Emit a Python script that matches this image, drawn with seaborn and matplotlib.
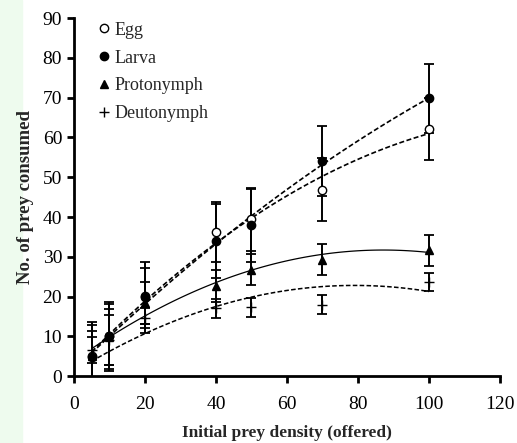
import numpy as np
import seaborn as sns
import matplotlib.pyplot as plt
from matplotlib.patches import Rectangle

# prey density offered and mean (+/- error) prey consumed per stage
density = [5, 10, 20, 40, 50, 70, 100]

egg_mean = [5.0, 10.0, 20.1, 36.3, 39.4, 46.9, 62.2]
egg_err = [8.6, 8.7, 7.0, 7.6, 8.0, 8.0, 7.8]

larva_mean = [4.9, 10.0, 19.8, 34.0, 37.9, 54.1, 69.9]
larva_err = [8.0, 8.1, 8.9, 9.3, 9.1, 8.9, 8.7]

proto_mean = [5.0, 9.8, 18.4, 22.7, 26.8, 29.3, 31.7]
proto_err = [6.3, 7.0, 5.3, 4.0, 3.9, 3.8, 3.9]

deuto_mean = [6.6, 9.0, 14.5, 17.0, 17.3, 18.0, 23.7]
deuto_err = [3.3, 6.3, 2.5, 2.5, 2.4, 2.3, 2.3]
# the deutonymph trendline in the source does not follow its means,
# so it is fitted to the curve's own values read at each density
deuto_trend = [3.6, 6.3, 10.8, 17.6, 19.7, 22.5, 21.3]

stages = ["Egg", "Larva", "Protonymph", "Deutonymph"]

sns.set_style("ticks")
plt.rcParams["font.family"] = ["Liberation Serif", "DejaVu Serif"]

fig = plt.figure(figsize=(5.17, 4.43), dpi=100)
fig.patches.append(Rectangle((0, 0), 22 / 517, 1, transform=fig.transFigure,
                             color="#eefbee", zorder=-1))
ax = fig.add_axes([0.143, 0.151, 0.824, 0.808])

dash = (0, (3, 1.5))
series = [
    (egg_mean, egg_err, egg_mean, "o", "white", dash, 1.2),
    (larva_mean, larva_err, larva_mean, "o", "black", dash, 1.2),
    (proto_mean, proto_err, proto_mean, "^", "black", "-", 0.9),
    (deuto_mean, deuto_err, deuto_trend, "+", "black", dash, 1.1),
]

for (mean, err, trend, mk, fc, ls, lw), name in zip(series, stages):
    sns.regplot(x=density, y=trend, order=2, ci=None, scatter=False, ax=ax,
                color="black", line_kws=dict(ls=ls, lw=lw, zorder=2))
    ax.errorbar(density, mean, yerr=err, fmt="none", ecolor="black",
                elinewidth=1.4, capsize=3.5, capthick=1.3, zorder=3)
    ax.plot(density, mean, linestyle="none", marker=mk, markersize=6 if mk != "+" else 6.5,
            markerfacecolor=fc, markeredgecolor="black", markeredgewidth=1.0,
            color="black", label=name, zorder=4)

ax.set_xlim(0, 120)
ax.set_ylim(0, 90)
ax.set_xticks(range(0, 121, 20))
ax.set_yticks(range(0, 91, 10))
ax.tick_params(labelsize=14, width=2, length=5, color="black", labelcolor="black")
ax.tick_params(axis="x", pad=9)
for side in ["left", "bottom"]:
    ax.spines[side].set_linewidth(2)
    ax.spines[side].set_color("black")
sns.despine(ax=ax)

ax.set_xlabel("Initial prey density (offered)", fontsize=12.5, fontweight="bold", labelpad=9)
ax.set_ylabel("No. of prey consumed", fontsize=13.5, fontweight="bold", labelpad=6)

ax.legend(loc="upper left", bbox_to_anchor=(0.04, 1.01), frameon=False, fontsize=13,
          handlelength=0.6, handletextpad=0.3, labelspacing=0.6, borderaxespad=0)

fig.savefig("out.png", dpi=100)
